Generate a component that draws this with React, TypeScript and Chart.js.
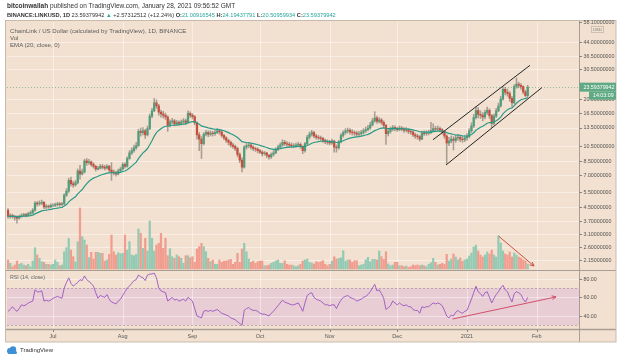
import React, { useEffect, useRef } from "react";
import { Chart, registerables } from "chart.js";

Chart.register(...registerables);

// ---------------- DATA ----------------
const START_DATE = "2020-06-11";
const FIRST_OPEN = 4.3;
const EMA_LENGTH = 20;
const LAST_PRICE = 23.59379942;

const closes = [
  3.95, 4.0, 3.95, 3.9, 3.85, 3.95, 4.0, 4.05, 4.0, 4.1,
  4.15, 4.3, 4.75, 4.7, 4.75, 4.8, 4.5, 4.55, 4.5, 4.6,
  4.6, 4.65, 4.7, 4.65, 4.7, 5.3, 5.6, 6.5, 6.2, 6.1,
  6.3, 7.4, 7.1, 7.3, 8.5, 8.3, 8.4, 8.1, 7.9, 7.6,
  7.7, 7.9, 7.8, 7.7, 7.9, 7.5, 7.3, 7.2, 7.1, 7.4,
  7.6, 8.1, 7.9, 8.8, 9.5, 9.8, 10.2, 10.5, 12.8, 12.6,
  12.9, 12.2, 13.3, 15.8, 17.0, 19.0, 18.2, 16.7, 16.3, 16.0,
  15.6, 13.9, 14.6, 14.8, 14.2, 14.5, 14.3, 14.6, 14.8, 14.5,
  16.4, 16.0, 15.7, 14.4, 12.2, 11.5, 10.8, 12.3, 12.6, 12.3,
  12.5, 12.4, 12.6, 12.9, 12.7, 12.1, 11.7, 11.3, 11.0, 10.6,
  10.4, 10.1, 9.3, 8.6, 7.8, 10.3, 10.5, 10.6, 10.3, 10.1,
  10.0, 9.8, 9.6, 9.4, 9.5, 9.2, 9.0, 9.3, 9.5, 10.0,
  10.3, 10.6, 11.0, 10.8, 10.7, 10.6, 10.5, 10.5, 10.6, 10.7,
  10.4, 9.8, 10.8, 11.8, 12.3, 12.6, 12.0, 11.8, 11.7, 11.6,
  11.3, 11.1, 11.0, 10.9, 11.2, 10.3, 10.2, 11.1, 12.1, 12.6,
  12.9, 13.0, 12.7, 12.6, 12.5, 12.3, 12.4, 12.6, 12.9, 13.1,
  13.4, 14.0, 14.8, 15.4, 14.7, 15.0, 14.5, 13.9, 12.4, 12.8,
  13.2, 13.5, 13.3, 13.1, 13.4, 13.2, 13.0, 13.1, 12.8, 12.7,
  12.2, 12.0, 11.9, 11.5, 12.5, 12.4, 12.5, 12.6, 12.9, 13.3,
  13.2, 13.3, 13.1, 12.7, 12.0, 10.9, 11.2, 11.5, 11.3, 11.7,
  11.8, 11.5, 11.4, 11.7, 11.9, 12.9, 13.8, 15.5, 17.1, 16.2,
  16.0, 15.6, 16.6, 17.1, 15.9, 14.3, 15.8, 17.0, 18.2, 20.0,
  22.9, 22.0, 21.6, 20.2, 19.0, 23.8, 24.6, 24.2, 23.8, 22.1,
  21.0, 23.59,
];

const highs = [
  4.4, 4.1, 4.08, 4.0, 3.98, 4.02, 4.1, 4.12, 4.12, 4.18,
  4.25, 4.4, 4.85, 4.85, 4.9, 4.95, 4.85, 4.65, 4.62, 4.7,
  4.72, 4.75, 4.8, 4.78, 4.8, 5.4, 5.8, 6.7, 6.8, 6.4,
  6.5, 7.6, 8.0, 7.6, 8.7, 8.8, 8.7, 8.5, 8.3, 8.0,
  7.9, 8.1, 8.1, 8.0, 8.1, 8.0, 8.3, 7.5, 7.4, 7.6,
  7.8, 8.3, 8.3, 9.0, 9.8, 10.2, 10.6, 11.0, 13.2, 13.4,
  13.5, 13.2, 13.8, 16.3, 17.6, 20.2, 19.8, 18.6, 17.2, 16.9,
  16.5, 15.9, 15.0, 15.3, 15.1, 14.9, 14.8, 15.0, 15.3, 15.2,
  17.0, 16.8, 16.4, 15.9, 14.6, 12.6, 11.9, 12.6, 13.0, 12.9,
  12.9, 12.8, 13.0, 13.3, 13.2, 12.9, 12.3, 11.9, 11.5, 11.2,
  10.9, 10.6, 10.3, 9.5, 8.9, 10.5, 10.9, 11.0, 10.8, 10.5,
  10.3, 10.2, 10.0, 9.8, 9.7, 9.6, 9.3, 9.5, 9.8, 10.2,
  10.6, 10.9, 11.4, 11.3, 11.1, 11.0, 10.9, 10.8, 10.9, 11.0,
  10.9, 10.5, 11.0, 12.1, 12.7, 13.0, 12.8, 12.3, 12.1, 12.0,
  11.8, 11.5, 11.4, 11.3, 11.5, 11.3, 10.6, 11.3, 12.4, 12.9,
  13.3, 13.4, 13.3, 13.1, 12.9, 12.8, 12.8, 13.0, 13.3, 13.6,
  13.9, 14.5, 15.3, 16.8, 15.8, 15.5, 15.3, 14.8, 14.1, 13.2,
  13.6, 13.9, 13.8, 13.6, 13.8, 13.7, 13.5, 13.5, 13.3, 13.1,
  12.9, 12.5, 12.3, 12.1, 12.8, 12.9, 12.9, 13.0, 14.5, 14.2,
  13.7, 13.8, 13.6, 13.3, 12.9, 12.2, 11.8, 12.0, 11.9, 12.1,
  12.3, 12.0, 11.9, 12.1, 12.4, 13.3, 14.4, 16.2, 18.0, 17.8,
  17.0, 16.6, 17.2, 17.9, 17.5, 16.2, 16.3, 17.6, 18.9, 20.8,
  23.8, 23.5, 23.0, 22.2, 20.8, 24.4, 26.8, 25.3, 24.8, 24.0,
  22.6, 24.19,
];

const lows = [
  3.85, 3.85, 3.85, 3.75, 3.6, 3.8, 3.9, 3.95, 3.92, 3.95,
  4.05, 4.1, 4.25, 4.55, 4.6, 4.65, 4.4, 4.4, 4.4, 4.45,
  4.5, 4.52, 4.55, 4.55, 4.6, 4.65, 5.2, 5.5, 6.0, 5.9,
  6.0, 6.2, 6.6, 7.0, 7.2, 8.0, 8.1, 7.9, 7.7, 7.4,
  7.5, 7.6, 7.6, 7.5, 7.6, 7.3, 6.5, 7.0, 6.9, 7.0,
  7.3, 7.5, 7.7, 7.8, 8.7, 9.3, 9.6, 10.0, 10.4, 12.0,
  12.2, 11.6, 12.0, 13.1, 15.4, 16.8, 17.6, 16.0, 15.6, 15.4,
  15.1, 12.8, 13.6, 14.2, 13.8, 13.9, 13.9, 14.0, 14.3, 14.1,
  14.4, 15.5, 15.2, 14.0, 11.5, 9.8, 8.8, 10.6, 12.0, 11.9,
  12.0, 12.0, 12.1, 12.4, 12.3, 11.8, 11.4, 11.0, 10.6, 10.3,
  10.1, 9.8, 9.0, 8.3, 7.3, 7.7, 10.0, 10.2, 10.0, 9.8,
  9.7, 9.5, 9.4, 9.1, 9.2, 8.9, 8.7, 8.8, 9.1, 9.4,
  9.8, 10.1, 10.4, 10.5, 10.4, 10.3, 10.2, 10.2, 10.3, 10.4,
  10.1, 9.4, 9.6, 10.6, 11.5, 12.0, 11.7, 11.5, 11.4, 11.3,
  11.0, 10.8, 10.7, 10.6, 10.7, 9.6, 9.6, 10.0, 10.9, 11.8,
  12.3, 12.5, 12.3, 12.2, 12.1, 11.9, 12.0, 12.1, 12.3, 12.6,
  12.9, 13.2, 13.8, 14.5, 14.3, 14.4, 14.1, 13.5, 10.7, 12.0,
  12.5, 12.9, 12.9, 12.8, 12.9, 12.9, 12.6, 12.7, 12.4, 12.3,
  11.9, 11.6, 11.5, 11.2, 11.4, 12.1, 12.1, 12.2, 12.4, 12.7,
  12.8, 12.9, 12.7, 12.3, 11.6, 8.2, 10.5, 10.9, 9.9, 11.0,
  11.3, 11.1, 11.0, 11.1, 11.3, 11.7, 12.6, 13.5, 15.2, 15.4,
  15.3, 14.8, 15.2, 16.2, 15.3, 13.5, 14.0, 15.5, 16.8, 17.9,
  19.7, 21.2, 20.8, 19.4, 18.1, 18.8, 23.2, 23.4, 22.9, 21.5,
  20.6, 20.51,
];

// volume (millions)
const volumes = [
  9, 5.7, 2.3, 4, 8, 4.7, 5.7, 4, 3.3, 4.7,
  2.3, 8, 21.3, 14, 10.7, 7.3, 6.7, 4.7, 4.7, 4,
  4.7, 9, 6.7, 3.3, 4, 17.3, 21.3, 30.7, 19, 12.3,
  7.3, 27.3, 61, 32.3, 29, 24, 11.3, 16.7, 10, 16.7,
  16.7, 15.7, 15.7, 8, 9, 14.7, 34, 17.3, 14, 16.3,
  15.3, 15.7, 34, 19, 27.3, 14, 13.3, 14.7, 40, 35.7,
  20.7, 30.7, 18, 48, 30.7, 18, 24, 25.7, 35.7, 20.7,
  30.7, 13.3, 20.3, 12.3, 10.7, 14, 12.3, 10.7, 5.7, 13.3,
  13.3, 11.3, 12.3, 6.7, 20, 22.3, 25.7, 22.3, 17.3, 10.7,
  7.3, 9, 4.7, 4.7, 9, 6.7, 8, 8, 9, 9.7,
  4.7, 6.7, 15.7, 6.7, 20, 25.7, 17.3, 10, 6.7, 8,
  5.7, 7.3, 8, 8, 3.3, 3.3, 4, 5.7, 6.7, 8,
  9, 5.7, 5.7, 8.3, 4.7, 4, 4, 3.3, 2.3, 3.3,
  4.7, 8, 9, 10, 6.7, 6, 5, 7.3, 6.7, 7.3,
  8.3, 4.7, 3.3, 4.7, 8, 12.3, 10, 10.7, 11.3, 18.3,
  8, 9, 9, 6.7, 8.3, 8.3, 3.3, 4, 4.7, 9,
  11.7, 7.3, 9.7, 9.7, 9, 18, 12.3, 9.7, 17.3, 5,
  3.3, 4, 6.7, 6.7, 3.3, 3.3, 2.3, 3, 1.7, 2.3,
  4, 3.3, 4, 3.3, 4, 3.3, 2.3, 4.7, 6.3, 10.7,
  6.7, 4, 4.7, 5.7, 4.7, 14.7, 8, 10, 15, 12,
  9, 11, 8, 9, 10, 13, 16, 22, 24, 18,
  14, 12, 14, 17, 15, 19, 14, 12, 33, 26,
  18, 15, 14, 17, 12, 16, 14, 12, 11, 9,
  8, 5,
];

const rsiValues = [
  45, 47, 50, 47, 45, 48, 52, 51, 52, 54,
  55, 56, 68, 66, 66, 67, 56, 57, 56, 57,
  59, 60, 61, 60, 59, 70, 76, 81, 75, 72,
  74, 76, 79, 78, 83, 79, 77, 75, 72, 65,
  59, 62, 61, 60, 63, 58, 55, 54, 53, 56,
  58, 62, 66, 70, 72, 75, 78, 79, 84, 82,
  81, 78, 84, 85, 85, 86, 81, 70, 67, 66,
  65, 56, 58, 60, 57, 58, 56, 57, 58, 56,
  60, 58, 56, 48, 40, 39, 38, 45, 46, 45,
  46, 45, 46, 47, 45, 43, 42, 41, 40, 38,
  37, 36, 34, 32, 30, 46, 48, 49, 47, 46,
  46, 45, 43, 42, 42, 41, 40, 43, 45, 48,
  51, 54, 57, 55, 54, 53, 52, 52, 53, 54,
  50, 45, 54, 62, 64, 65, 60, 58, 57, 56,
  54, 52, 52, 51, 52, 52, 48, 53, 57, 60,
  61, 62, 60, 59, 58, 56, 57, 58, 60, 61,
  63, 66, 70, 74, 67, 68, 64, 59, 47, 49,
  51, 56, 54, 52, 54, 52, 51, 52, 50, 50,
  47, 46, 46, 43, 50, 49, 50, 50, 52, 54,
  53, 54, 53, 51, 46, 40, 38, 41, 40, 44,
  46, 44, 43, 45, 46, 52, 58, 65, 72, 66,
  64, 61, 65, 66, 60, 54, 59, 63, 66, 70,
  73, 68, 66, 60, 55, 64, 66, 65, 63, 58,
  55, 60,
];

const priceTicks = [2.15, 2.6, 3.1, 3.7, 4.5, 5.5, 7, 8.5, 10.5, 13.5, 16.5, 20, 30.5, 36.5, 44, 58.1];
const rsiTicks = [40, 60, 80];
const rsiBand = [30, 70];
const monthStarts = ["2020-07-01", "2020-08-01", "2020-09-01", "2020-10-01", "2020-11-01", "2020-12-01", "2021-01-01", "2021-02-01"];
const monthLabels = ["Jul", "Aug", "Sep", "Oct", "Nov", "Dec", "2021", "Feb"];

// drawings: [day index, value]
const channelUpper = [[188.9, 11.4], [232.0, 31.9]];
const channelLower = [[194.7, 8.04], [237.3, 23.45]];
const volumeArrow = [[218.0, 33], [233.8, 3]];
const rsiArrow = [[197.6, 36.8], [243.6, 60.5]];

// ---------------- DERIVED ----------------
const DAY_MS = 86400000;
const dayIndex = (d: string) =>
  Math.round((Date.parse(d + "T00:00:00Z") - Date.parse(START_DATE + "T00:00:00Z")) / DAY_MS);
const monthIdx = monthStarts.map(dayIndex);
const opens = closes.map((c, i) => (i === 0 ? FIRST_OPEN : closes[i - 1]));
const isUp = closes.map((c, i) => c >= opens[i]);
const ema: number[] = [];
{
  const k = 2 / (EMA_LENGTH + 1);
  closes.forEach((c, i) => ema.push(i === 0 ? c : c * k + ema[i - 1] * (1 - k)));
}

// ---------------- STYLE ----------------
const BG = "#f2e1d0";
const BAND = "#e8cdd5";
const GRID = "rgba(255,255,255,0.45)";
const SEP = "#a99e93";
const UP = "#4e9d7b";
const DOWN = "#c84e3b";
const VOL_UP = "#93cab4";
const VOL_DOWN = "#f09d8f";
const WICK = "rgba(105,100,95,0.55)";
const AX_FONT = '5.3px "Liberation Sans", Arial, sans-serif';
const AX_COLOR = "#555";
const SEP_Y = 270;
const BOX = { l: 5.5, t: 20.5, r: 616, b: 342 };

function line(ctx: CanvasRenderingContext2D, x1: number, y1: number, x2: number, y2: number) {
  ctx.beginPath();
  ctx.moveTo(x1, y1);
  ctx.lineTo(x2, y2);
  ctx.stroke();
}
function arrowHead(ctx: CanvasRenderingContext2D, x1: number, y1: number, x2: number, y2: number) {
  const a = Math.atan2(y2 - y1, x2 - x1);
  const L = 4.5;
  line(ctx, x2, y2, x2 - L * Math.cos(a - 0.45), y2 - L * Math.sin(a - 0.45));
  line(ctx, x2, y2, x2 - L * Math.cos(a + 0.45), y2 - L * Math.sin(a + 0.45));
}

const tvPlugin = {
  id: "tvDecor",
  beforeDraw(chart: any) {
    const ctx: CanvasRenderingContext2D = chart.ctx;
    const { left, right, top, bottom } = chart.chartArea;
    const xs = chart.scales.x, yp = chart.scales.yPrice, yr = chart.scales.yRsi;
    ctx.save();
    ctx.fillStyle = "#ffffff";
    ctx.fillRect(0, 0, chart.width, chart.height);
    ctx.fillStyle = BG;
    ctx.fillRect(BOX.l, BOX.t, BOX.r - BOX.l, BOX.b - BOX.t);
    // RSI band
    const y70 = yr.getPixelForValue(rsiBand[1]);
    const y30 = yr.getPixelForValue(rsiBand[0]);
    ctx.fillStyle = BAND;
    ctx.fillRect(left, y70, right - left, y30 - y70);
    // grid
    ctx.strokeStyle = GRID;
    ctx.lineWidth = 1;
    priceTicks.forEach((v) => {
      const y = Math.round(yp.getPixelForValue(v)) + 0.5;
      if (y > top + 1 && y < SEP_Y - 1) line(ctx, left, y, right, y);
    });
    rsiTicks.forEach((v) => {
      const y = Math.round(yr.getPixelForValue(v)) + 0.5;
      line(ctx, left, y, right, y);
    });
    monthIdx.forEach((d) => {
      const x = Math.round(xs.getPixelForValue(d)) + 0.5;
      line(ctx, x, top, x, bottom);
    });
    // band borders
    ctx.strokeStyle = "rgba(150,130,140,0.55)";
    ctx.setLineDash([2, 2]);
    line(ctx, left, Math.round(y70) + 0.5, right, Math.round(y70) + 0.5);
    line(ctx, left, Math.round(y30) + 0.5, right, Math.round(y30) + 0.5);
    // last price line
    const yl = Math.round(yp.getPixelForValue(LAST_PRICE)) + 0.5;
    ctx.strokeStyle = "rgba(90,160,120,0.6)";
    ctx.setLineDash([1, 2]);
    line(ctx, left, yl, right, yl);
    ctx.setLineDash([]);
    ctx.restore();
  },
  afterDatasetsDraw(chart: any) {
    const ctx: CanvasRenderingContext2D = chart.ctx;
    const { left, right, top, bottom } = chart.chartArea;
    const xs = chart.scales.x, yp = chart.scales.yPrice, yr = chart.scales.yRsi, yv = chart.scales.yVol;
    ctx.save();
    // channel
    ctx.strokeStyle = "#262626";
    ctx.lineWidth = 1;
    [channelUpper, channelLower].forEach((ln) => {
      line(ctx, xs.getPixelForValue(ln[0][0]), yp.getPixelForValue(ln[0][1]), xs.getPixelForValue(ln[1][0]), yp.getPixelForValue(ln[1][1]));
    });
    // volume arrow
    ctx.strokeStyle = "#cf4f46";
    let ax1 = xs.getPixelForValue(volumeArrow[0][0]), ay1 = yv.getPixelForValue(volumeArrow[0][1]);
    let ax2 = xs.getPixelForValue(volumeArrow[1][0]), ay2 = yv.getPixelForValue(volumeArrow[1][1]);
    line(ctx, ax1, ay1, ax2, ay2);
    arrowHead(ctx, ax1, ay1, ax2, ay2);
    // rsi arrow
    ctx.strokeStyle = "#d0506a";
    ax1 = xs.getPixelForValue(rsiArrow[0][0]); ay1 = yr.getPixelForValue(rsiArrow[0][1]);
    ax2 = xs.getPixelForValue(rsiArrow[1][0]); ay2 = yr.getPixelForValue(rsiArrow[1][1]);
    line(ctx, ax1, ay1, ax2, ay2);
    arrowHead(ctx, ax1, ay1, ax2, ay2);

    // separators
    ctx.strokeStyle = SEP;
    ctx.lineWidth = 1;
    line(ctx, BOX.l, SEP_Y + 0.5, BOX.r, SEP_Y + 0.5);
    ctx.lineWidth = 1.5;
    line(ctx, BOX.l, bottom + 0.5, BOX.r, bottom + 0.5);
    ctx.lineWidth = 1;
    line(ctx, right + 0.5, BOX.t, right + 0.5, BOX.b);
    ctx.strokeStyle = "#c8bbae";
    ctx.strokeRect(BOX.l, BOX.t, BOX.r - BOX.l, BOX.b - BOX.t);

    // right axis labels
    ctx.font = AX_FONT;
    ctx.textBaseline = "middle";
    ctx.textAlign = "left";
    ctx.fillStyle = AX_COLOR;
    ctx.strokeStyle = "#8d857c";
    priceTicks.forEach((v) => {
      const y = yp.getPixelForValue(v);
      line(ctx, right, Math.round(y) + 0.5, right + 3, Math.round(y) + 0.5);
      ctx.fillText(v.toFixed(8), right + 4.5, y + 0.5);
    });
    rsiTicks.forEach((v) => {
      const y = yr.getPixelForValue(v);
      line(ctx, right, Math.round(y) + 0.5, right + 3, Math.round(y) + 0.5);
      ctx.fillText(v.toFixed(2), right + 4.5, y + 0.5);
    });
    // USD badge
    ctx.strokeStyle = "#cdbfb2";
    ctx.strokeRect(591.5, 26.5, 12, 6);
    ctx.font = '4.3px "Liberation Sans", Arial, sans-serif';
    ctx.fillStyle = "#777";
    ctx.textAlign = "center";
    ctx.fillText("USD", 597.5, 30);
    // last price badge
    const yl = yp.getPixelForValue(LAST_PRICE);
    ctx.fillStyle = "#5fa985";
    ctx.fillRect(right + 0.5, yl - 4.5, BOX.r - right - 0.5, 9);
    ctx.fillRect(589, yl + 4.5, BOX.r - 589, 8);
    ctx.fillStyle = "#ffffff";
    ctx.font = AX_FONT;
    ctx.textAlign = "left";
    ctx.fillText(LAST_PRICE.toFixed(8), right + 4.5, yl + 0.5);
    ctx.fillText("14:03:09", 593, yl + 8.8);

    // time axis
    ctx.fillStyle = AX_COLOR;
    ctx.strokeStyle = "#8d857c";
    ctx.textAlign = "center";
    ctx.font = '5.5px "Liberation Sans", Arial, sans-serif';
    monthIdx.forEach((d, k) => {
      const x = xs.getPixelForValue(d);
      line(ctx, Math.round(x) + 0.5, bottom + 1, Math.round(x) + 0.5, bottom + 3);
      ctx.fillText(monthLabels[k], x, bottom + 7);
    });

    // RSI label
    ctx.textAlign = "left";
    ctx.fillStyle = "#666";
    ctx.font = '5.3px "Liberation Sans", Arial, sans-serif';
    ctx.fillText("RSI (14, close)", 10, 277.5);
    ctx.restore();
  },
};

export default function App() {
  const ref = useRef<HTMLCanvasElement>(null);
  useEffect(() => {
    const idx = closes.map((_, i) => i);
    const chart = new Chart(ref.current as HTMLCanvasElement, {
      type: "line",
      data: {
        datasets: [
          {
            type: "bar",
            label: "Vol",
            yAxisID: "yVol",
            data: idx.map((i) => ({ x: i, y: [0, volumes[i]] })) as any,
            backgroundColor: idx.map((i) => (isUp[i] ? VOL_UP : VOL_DOWN)),
            barThickness: 1.6,
            grouped: false,
            borderWidth: 0,
            order: 10,
          } as any,
          {
            type: "bar",
            label: "wick",
            yAxisID: "yPrice",
            data: idx.map((i) => ({ x: i, y: [lows[i], highs[i]] })) as any,
            backgroundColor: WICK,
            barThickness: 0.9,
            grouped: false,
            borderWidth: 0,
            order: 6,
          } as any,
          {
            type: "bar",
            label: "body",
            yAxisID: "yPrice",
            data: idx.map((i) => ({ x: i, y: [Math.min(opens[i], closes[i]), Math.max(opens[i], closes[i])] })) as any,
            backgroundColor: idx.map((i) => (isUp[i] ? UP : DOWN)),
            barThickness: 1.6,
            grouped: false,
            borderWidth: 0,
            order: 5,
          } as any,
          {
            type: "line",
            label: "EMA",
            yAxisID: "yPrice",
            data: idx.map((i) => ({ x: i, y: ema[i] })),
            borderColor: "#2a9a87",
            borderWidth: 1.2,
            pointRadius: 0,
            tension: 0,
            order: 2,
          },
          {
            type: "line",
            label: "RSI",
            yAxisID: "yRsi",
            data: idx.map((i) => ({ x: i, y: rsiValues[i] })),
            borderColor: "#9a55c2",
            borderWidth: 0.9,
            pointRadius: 0,
            tension: 0,
            order: 2,
          },
        ],
      },
      options: {
        responsive: false,
        animation: false,
        events: [],
        layout: { padding: { left: 7, top: 22, right: 628 - 579, bottom: 358 - 329 } },
        plugins: { legend: { display: false }, tooltip: { enabled: false } },
        scales: {
          x: { type: "linear", min: -0.44, max: 253.8, display: false, offset: false },
          yPrice: { type: "logarithmic", min: 0.832, max: 58.1, display: false },
          yVol: { type: "linear", min: -60, max: 247, display: false },
          yRsi: { type: "linear", min: 26.06, max: 355.3, display: false },
        },
      } as any,
      plugins: [tvPlugin as any],
    });
    return () => chart.destroy();
  }, []);

  const teal = "#26a69a";
  const font = '"Liberation Sans", Arial, sans-serif';
  return (
    <div style={{ position: "fixed", left: 0, top: 0, width: 628, height: 358, background: "#fff", overflow: "hidden", fontFamily: font }}>
      <canvas ref={ref} width={628} height={358} style={{ position: "absolute", left: 0, top: 0 }} />
      <div style={{ position: "absolute", left: 7, top: 2, fontSize: 6.5, lineHeight: "7px", color: "#333", whiteSpace: "nowrap" }}>
        <b>bitcoinwallah</b> published on TradingView.com, January 28, 2021 09:56:52 GMT
      </div>
      <div style={{ position: "absolute", left: 7, top: 12, fontSize: 5.65, lineHeight: "7px", color: "#333", whiteSpace: "nowrap" }}>
        <b>BINANCE:LINKUSD, 1D</b> 23.59379942 <span style={{ color: teal }}>▲</span> +2.57312512 (+12.24%){" "}
        <b>O:</b><span style={{ color: teal }}>21.00916545</span> <b>H:</b><span style={{ color: teal }}>24.19437791</span>{" "}
        <b>L:</b><span style={{ color: teal }}>20.50959934</span> <b>C:</b><span style={{ color: teal }}>23.59379942</span>
      </div>
      <div style={{ position: "absolute", left: 10, top: 27, fontSize: 6.1, lineHeight: "7px", color: "#5c5c5c", whiteSpace: "nowrap" }}>
        <div>ChainLink / US Dollar (calculated by TradingView), 1D, BINANCE</div>
        <div>Vol</div>
        <div>EMA (20, close, 0)</div>
      </div>
      <div style={{ position: "absolute", left: 6, top: 346, display: "flex", alignItems: "center", gap: 2, fontSize: 6, color: "#333" }}>
        <svg width="12" height="8" viewBox="0 0 12 8">
          <circle cx="4" cy="5" r="3" fill="#3d8fd6" />
          <circle cx="7" cy="3.5" r="3.2" fill="#3d8fd6" />
          <rect x="2" y="5" width="9" height="3" rx="1.5" fill="#3d8fd6" />
        </svg>
        <span>TradingView</span>
      </div>
    </div>
  );
}
